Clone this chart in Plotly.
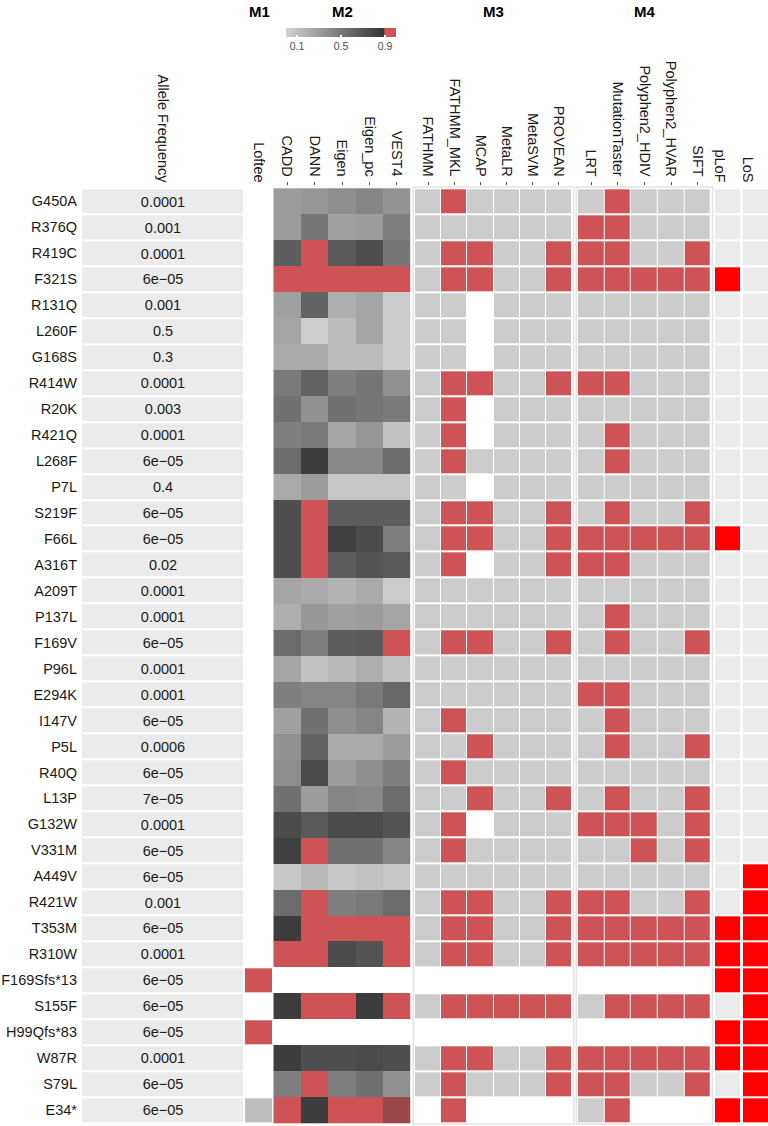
import plotly.graph_objects as go

W, H = 768, 1126

variants = ["G450A", "R376Q", "R419C", "F321S", "R131Q", "L260F", "G168S", "R414W", "R20K",
            "R421Q", "L268F", "P7L", "S219F", "F66L", "A316T", "A209T", "P137L", "F169V",
            "P96L", "E294K", "I147V", "P5L", "R40Q", "L13P", "G132W", "V331M", "A449V",
            "R421W", "T353M", "R310W", "F169Sfs*13", "S155F", "H99Qfs*83", "W87R", "S79L", "E34*"]

allele_freq = ["0.0001", "0.001", "0.0001", "6e−05", "0.001", "0.5", "0.3", "0.0001", "0.003",
               "0.0001", "6e−05", "0.4", "6e−05", "6e−05", "0.02", "0.0001", "0.0001", "6e−05",
               "0.0001", "0.0001", "6e−05", "0.0006", "6e−05", "7e−05", "0.0001", "6e−05", "6e−05",
               "0.001", "6e−05", "0.0001", "6e−05", "6e−05", "6e−05", "0.0001", "6e−05", "6e−05"]

# M1: Loftee (1 = HC, 0 = LC)
loftee = [None, None, None, None, None, None, None, None, None, None, None, None, None, None,
          None, None, None, None, None, None, None, None, None, None, None, None, None, None,
          None, None, 1, None, 1, None, None, 0]

# M2: continuous scores
cadd = [0.30, 0.30, 0.65, 0.95, 0.28, 0.25, 0.22, 0.49, 0.54, 0.46, 0.57, 0.22, 0.73, 0.73, 0.73, 0.25,
        0.20, 0.57, 0.25, 0.46, 0.28, 0.36, 0.38, 0.54, 0.75, 0.81, 0.06, 0.57, 0.83, 0.95, None, 0.83,
        None, 0.83, 0.46, 0.95]
dann = [0.33, 0.51, 0.95, 0.95, 0.62, 0.03, 0.22, 0.62, 0.36, 0.49, 0.83, 0.30, 0.95, 0.95, 0.95, 0.22,
        0.33, 0.46, 0.09, 0.43, 0.54, 0.62, 0.75, 0.30, 0.67, 0.95, 0.14, 0.95, 0.95, 0.95, None, 0.95,
        None, 0.73, 0.95, 0.83]
eigen = [0.38, 0.28, 0.67, 0.95, 0.20, 0.12, 0.12, 0.46, 0.54, 0.25, 0.41, 0.06, 0.65, 0.81, 0.65, 0.17,
         0.28, 0.65, 0.14, 0.43, 0.38, 0.22, 0.30, 0.43, 0.75, 0.54, 0.06, 0.46, 0.95, 0.75, None, 0.95,
         None, 0.73, 0.46, 0.95]
eigen_pc = [0.43, 0.30, 0.73, 0.95, 0.25, 0.25, 0.12, 0.51, 0.51, 0.33, 0.41, 0.06, 0.65, 0.75, 0.70, 0.22,
            0.30, 0.67, 0.20, 0.49, 0.43, 0.22, 0.38, 0.41, 0.75, 0.54, 0.09, 0.49, 0.95, 0.70, None, 0.83,
            None, 0.75, 0.54, 0.95]
vest4 = [0.35, 0.46, 0.51, 0.95, 0.04, 0.04, 0.04, 0.36, 0.49, 0.09, 0.57, 0.06, 0.65, 0.46, 0.67, 0.04,
         0.25, 0.95, 0.09, 0.59, 0.17, 0.30, 0.46, 0.57, 0.70, 0.43, 0.06, 0.57, 0.95, 0.95, None, 0.95,
         None, 0.73, 0.36, 0.895]

# M3: binary predictions (1 = damaging, 0 = tolerated, None = missing)
N = None
fathmm = [0, 0, 0, 0, 0, 0, 0, 0, 0, 0, 0, 0, 0, 0, 0, 0, 0, 0, 0, 0, 0, 0, 0, 0, 0, 0, 0, 0, 0, 0, N, 0, N, 0, 0, N]
fathmm_mkl = [1, 0, 1, 1, 0, 0, 0, 1, 1, 1, 1, 0, 1, 1, 1, 0, 0, 1, 0, 0, 1, 0, 1, 0, 1, 1, 0, 1, 1, 1, N, 1, N, 1, 1, 1]
mcap = [0, 0, 1, 1, N, N, N, 1, N, N, 0, N, 1, 1, N, 0, 0, 1, 0, 0, 0, 1, 0, 1, N, 0, 0, 1, 1, 1, N, 1, N, 1, 0, N]
metalr = [0, 0, 0, 0, 0, 0, 0, 0, 0, 0, 0, 0, 0, 0, 0, 0, 0, 0, 0, 0, 0, 0, 0, 0, 0, 0, 0, 0, 0, 0, N, 1, N, 0, 0, N]
metasvm = [0, 0, 0, 0, 0, 0, 0, 0, 0, 0, 0, 0, 0, 0, 0, 0, 0, 0, 0, 0, 0, 0, 0, 0, 0, 0, 0, 0, 0, 0, N, 1, N, 0, 0, N]
provean = [0, 0, 1, 1, 0, 0, 0, 1, 0, 0, 0, 0, 1, 1, 1, 0, 0, 1, 0, 0, 0, 0, 0, 1, 0, 0, 0, 1, 1, 1, N, 1, N, 1, 1, N]

# M4
lrt = [0, 1, 1, 1, 0, 0, 0, 1, 0, 0, 0, 0, 0, 1, 1, 0, 0, 0, 0, 1, 0, 0, 0, 0, 1, 0, 0, 1, 1, 1, N, 0, N, 1, 1, 0]
mutationtaster = [1, 1, 1, 1, 0, 0, 0, 1, 0, 1, 1, 0, 1, 1, 1, 0, 1, 1, 0, 1, 1, 1, 0, 1, 1, 0, 0, 1, 1, 1, N, 1, N, 1, 1, 1]
polyphen2_hdiv = [0, 0, 0, 1, 0, 0, 0, 0, 0, 0, 0, 0, 0, 1, 0, 0, 0, 0, 0, 0, 0, 0, 0, 0, 1, 1, 0, 0, 1, 1, N, 1, N, 1, 0, N]
polyphen2_hvar = [0, 0, 0, 1, 0, 0, 0, 0, 0, 0, 0, 0, 0, 1, 0, 0, 0, 0, 0, 0, 0, 0, 0, 0, 0, 0, 0, 0, 1, 1, N, 1, N, 1, 0, N]
sift = [0, 0, 1, 1, 0, 0, 0, 0, 0, 0, 0, 0, 1, 1, 0, 0, 0, 1, 0, 0, 0, 1, 0, 1, 1, 1, 0, 1, 1, 1, N, 1, N, 1, 1, N]

plof = [0, 0, 0, 1, 0, 0, 0, 0, 0, 0, 0, 0, 0, 1, 0, 0, 0, 0, 0, 0, 0, 0, 0, 0, 0, 0, 0, 0, 1, 1, 1, 0, 1, 1, 0, 1]
los = [0, 0, 0, 0, 0, 0, 0, 0, 0, 0, 0, 0, 0, 0, 0, 0, 0, 0, 0, 0, 0, 0, 0, 0, 0, 0, 1, 1, 1, 1, 1, 1, 1, 1, 1, 1]

m2_names = ["CADD", "DANN", "Eigen", "Eigen_pc", "VEST4"]
m3_names = ["FATHMM", "FATHMM_MKL", "MCAP", "MetaLR", "MetaSVM", "PROVEAN"]
m4_names = ["LRT", "MutationTaster", "Polyphen2_HDIV", "Polyphen2_HVAR", "SIFT"]

m2_cols = [cadd, dann, eigen, eigen_pc, vest4]
m3_cols = [fathmm, fathmm_mkl, mcap, metalr, metasvm, provean]
m4_cols = [lrt, mutationtaster, polyphen2_hdiv, polyphen2_hvar, sift]


def rows(cols):
    return [[c[i] for c in cols] for i in range(len(variants))]


RED = "#CD5355"
GRAY_BIN = "#CCCCCC"
FONT = "Liberation Sans, Arial, sans-serif"
TXT = "#1a1a1a"

bin_scale = [[0, GRAY_BIN], [0.5, GRAY_BIN], [0.5, RED], [1, RED]]
m2_scale = [[0, "#d2d2d2"], [0.885, "#333333"], [0.9, RED], [1, RED]]

fig = go.Figure()

# Allele frequency column
fig.add_trace(go.Heatmap(
    x=["Allele Frequency"], y=variants, z=[[0] for _ in variants],
    text=[[a] for a in allele_freq], texttemplate="%{text}",
    textfont=dict(size=14.5, color=TXT, family=FONT),
    colorscale=[[0, "#EBEBEB"], [1, "#EBEBEB"]], zmin=0, zmax=1,
    showscale=False, ygap=2, xaxis="x", yaxis="y", hoverinfo="skip"))

# Loftee
fig.add_trace(go.Heatmap(
    x=["Loftee"], y=variants, z=[[v] for v in loftee],
    colorscale=[[0, "#BEBEBE"], [0.5, "#BEBEBE"], [0.5, RED], [1, RED]], zmin=0, zmax=1,
    showscale=False, ygap=2, xaxis="x2", yaxis="y", hoverinfo="skip"))

# M2 continuous
fig.add_trace(go.Heatmap(
    x=m2_names, y=variants, z=rows(m2_cols),
    colorscale=m2_scale, zmin=0, zmax=1, xaxis="x3", yaxis="y", hoverinfo="skip",
    colorbar=dict(orientation="h", x=341 / W, xanchor="center", y=1 - 28 / H, yanchor="top",
                  len=110, lenmode="pixels", thickness=8.5, thicknessmode="pixels",
                  outlinewidth=0, xpad=0, ypad=0,
                  tickvals=[0.1, 0.5, 0.9], ticktext=["0.1", "0.5", "0.9"],
                  ticks="inside", ticklen=2, tickcolor="white", tickwidth=1.5,
                  tickfont=dict(size=10.5, color="#4d4d4d", family=FONT))))

# M3
fig.add_trace(go.Heatmap(
    x=m3_names, y=variants, z=rows(m3_cols), colorscale=bin_scale, zmin=0, zmax=1,
    showscale=False, xgap=1, ygap=2, xaxis="x4", yaxis="y", hoverinfo="skip"))

# M4
fig.add_trace(go.Heatmap(
    x=m4_names, y=variants, z=rows(m4_cols), colorscale=bin_scale, zmin=0, zmax=1,
    showscale=False, xgap=1, ygap=2, xaxis="x5", yaxis="y", hoverinfo="skip"))

# pLoF and LoS
for vals, name, ax in [(plof, "pLoF", "x6"), (los, "LoS", "x7")]:
    fig.add_trace(go.Heatmap(
        x=[name], y=variants, z=[[v] for v in vals],
        colorscale=[[0, "#EBEBEB"], [0.5, "#EBEBEB"], [0.5, "#FF0000"], [1, "#FF0000"]],
        zmin=0, zmax=1, showscale=False, ygap=2, xaxis=ax, yaxis="y", hoverinfo="skip"))

domains = {
    "xaxis": (82, 243),
    "xaxis2": (245, 272),
    "xaxis3": (273.3, 410.7),
    "xaxis4": (415, 572),
    "xaxis5": (577.7, 711),
    "xaxis6": (715, 740),
    "xaxis7": (743, 768),
}

layout_axes = {}
for name, (a, b) in domains.items():
    ax = dict(
        domain=[a / W, b / W], anchor="y", side="top", tickangle=90, automargin=False,
        showgrid=False, zeroline=False, showline=False,
        ticks="outside" if name in ("xaxis3", "xaxis4", "xaxis5") else "",
        ticklen=3, tickcolor="#555555", tickwidth=1,
        tickfont=dict(size=14.5, color=TXT, family=FONT), fixedrange=True)
    if name in ("xaxis6", "xaxis7"):
        ax.update(tickmode="array", tickvals=[-0.33],
                  ticktext=["pLoF" if name == "xaxis6" else "LoS"], range=[-0.5, 0.5])
    layout_axes[name] = ax

row_top, row_bot = 188.3, 1122.9
pitch = (row_bot - row_top) / 36
pad = 0.1
layout_axes["yaxis"] = dict(
    domain=[1 - (row_bot + pad * pitch) / H, 1 - (row_top - pad * pitch) / H],
    anchor="x", type="category", categoryorder="array", categoryarray=variants,
    range=[35.5 + pad, -0.5 - pad], showgrid=False, zeroline=False, showline=False,
    ticks="", ticklabelstandoff=4, automargin=False,
    tickfont=dict(size=14.5, color=TXT, family=FONT), fixedrange=True)

shapes = []
for x0, x1 in [(413.3, 573.6), (576.2, 712.5)]:
    shapes.append(dict(type="rect", xref="paper", yref="paper",
                       x0=x0 / W, x1=x1 / W, y0=1 - 1124 / H, y1=1 - 187 / H,
                       line=dict(color="#E4E4E4", width=1.5), fillcolor="rgba(0,0,0,0)",
                       layer="below"))

annotations = []
for label, xc in [("M1", 259), ("M2", 342), ("M3", 493), ("M4", 644)]:
    annotations.append(dict(text="<b>%s</b>" % label, x=xc / W, y=1 - 11 / H, xref="paper",
                            yref="paper", xanchor="center", yanchor="middle", showarrow=False,
                            font=dict(size=15, color="#000000", family=FONT)))

fig.update_layout(
    width=W, height=H, margin=dict(l=0, r=0, t=0, b=0, pad=0, autoexpand=False),
    paper_bgcolor="white", plot_bgcolor="white",
    font=dict(family=FONT, color=TXT),
    shapes=shapes, annotations=annotations, showlegend=False,
    **layout_axes)

fig.write_html("out.html", config={"displayModeBar": False, "staticPlot": True},
               post_script="document.body.style.margin='0';document.body.style.padding='0';")
